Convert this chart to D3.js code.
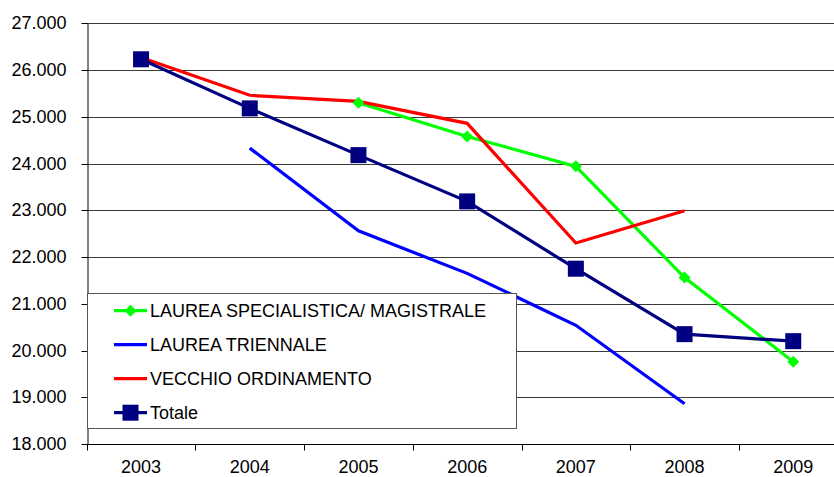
<!DOCTYPE html>
<html><head><meta charset="utf-8">
<script src="https://cdn.jsdelivr.net/npm/d3@7"></script>
<style>
html,body{margin:0;padding:0;background:#fff;overflow:hidden}
text{font-family:"Liberation Sans",Arial,sans-serif;fill:#000}
</style></head>
<body><svg id="c" width="834" height="477"></svg>
<script>
const years = ["2003","2004","2005","2006","2007","2008","2009"];
const yTicks = [18000,19000,20000,21000,22000,23000,24000,25000,26000,27000];
const specialistica = [null,null,25300,24580,23940,21560,19760];
const triennale = [null,24330,22560,21650,20540,18860,null];
const vecchio = [26270,25460,25330,24860,22300,22990,null];
const totale = [26230,25180,24180,23190,21750,20350,20200];
const seriesNames = ["LAUREA SPECIALISTICA/ MAGISTRALE","LAUREA TRIENNALE","VECCHIO ORDINAMENTO","Totale"];

const series = [
  {name:seriesNames[0], values:specialistica, color:"#00ff00", marker:"diamond"},
  {name:seriesNames[1], values:triennale, color:"#0000ff", marker:null},
  {name:seriesNames[2], values:vecchio, color:"#ff0000", marker:null},
  {name:seriesNames[3], values:totale, color:"#000080", marker:"square"}
];

const svg = d3.select("#c");
const L = 86.7, step = 108.7, T = 23.3, B = 444;
const x = d3.scaleBand().domain(years).range([L, L + step*years.length]).padding(0);
const y = d3.scaleLinear().domain([18000,27000]).range([B, T]);
const loc = d3.formatLocale({decimal:",", thousands:".", grouping:[3], currency:["",""]});
const fmt = loc.format(",.0f");

// gridlines
svg.append("g").selectAll("line").data(yTicks.slice(1)).join("line")
  .attr("x1", L).attr("x2", 834)
  .attr("y1", d => Math.round(y(d))+0.5).attr("y2", d => Math.round(y(d))+0.5)
  .attr("stroke", "#3a3a3a").attr("stroke-width", 1);

// y axis
const ya = svg.append("g").attr("transform", `translate(${Math.round(L)+0.5},0)`)
  .call(d3.axisLeft(y).tickValues(yTicks).tickFormat(fmt).tickSize(6).tickPadding(15).tickSizeOuter(0));
ya.attr("font-family", null).attr("font-size", null);
ya.select(".domain").attr("stroke","#000");
ya.selectAll(".tick line").attr("stroke","#000");
ya.selectAll(".tick").attr("transform", d => `translate(0,${Math.round(y(d))+0.5})`);
ya.selectAll("text").style("font-size","18px").attr("dy","0.33em");

// x axis
const xa = svg.append("g").attr("transform", `translate(0,${Math.round(B)+0.5})`)
  .call(d3.axisBottom(x).tickSize(0).tickPadding(0));
xa.attr("font-family", null).attr("font-size", null);
xa.select(".domain").attr("stroke","#000").attr("d", `M${L},0H834`);
xa.selectAll("text").style("font-size","18px").attr("y", 28.5).attr("dy", null);
const bounds = years.map(d => x(d)).concat([x(years[years.length-1]) + x.bandwidth()]);
xa.selectAll("line.bt").data(bounds).join("line").attr("class","bt")
  .attr("x1", d => Math.round(d)+0.5).attr("x2", d => Math.round(d)+0.5)
  .attr("y1", 0).attr("y2", 6).attr("stroke","#000");

const cx = d => x(d) + x.bandwidth()/2;

// lines
const line = d3.line().defined(d => d.v != null).x(d => cx(d.k)).y(d => y(d.v));
series.forEach(s => {
  const pts = years.map((k,i) => ({k, v:s.values[i]}));
  svg.append("path").datum(pts).attr("d", line).attr("fill","none")
    .attr("stroke", s.color).attr("stroke-width", 3.2).attr("stroke-linejoin","miter");
});
// markers
series.forEach(s => {
  const pts = years.map((k,i) => ({k, v:s.values[i]})).filter(d => d.v != null);
  if (s.marker === "square") {
    svg.append("g").selectAll("rect").data(pts).join("rect")
      .attr("x", d => cx(d.k)-8).attr("y", d => y(d.v)-8).attr("width",16).attr("height",16)
      .attr("fill", s.color);
  } else if (s.marker === "diamond") {
    svg.append("g").selectAll("path").data(pts).join("path")
      .attr("d", d => `M${cx(d.k)},${y(d.v)-6}L${cx(d.k)+6},${y(d.v)}L${cx(d.k)},${y(d.v)+6}L${cx(d.k)-6},${y(d.v)}Z`)
      .attr("fill", s.color);
  }
});

// legend
const lg = svg.append("g");
lg.append("rect").attr("x", Math.round(L)+0.5).attr("y", 293.5).attr("width", 429).attr("height", 135)
  .attr("fill","#fff").attr("stroke","#555").attr("stroke-width",1);
series.forEach((s,i) => {
  const yy = 310.7 + i*34;
  lg.append("line").attr("x1",114).attr("x2",147).attr("y1",yy).attr("y2",yy)
    .attr("stroke", s.color).attr("stroke-width",3.2);
  if (s.marker === "square") lg.append("rect").attr("x",130.5-8).attr("y",yy-8).attr("width",16).attr("height",16).attr("fill",s.color);
  if (s.marker === "diamond") lg.append("path").attr("d",`M130.5,${yy-6}L136.5,${yy}L130.5,${yy+6}L124.5,${yy}Z`).attr("fill",s.color);
  lg.append("text").attr("x",150).attr("y",yy).attr("dy","0.36em").style("font-size","18px").text(s.name);
});
</script></body></html>
